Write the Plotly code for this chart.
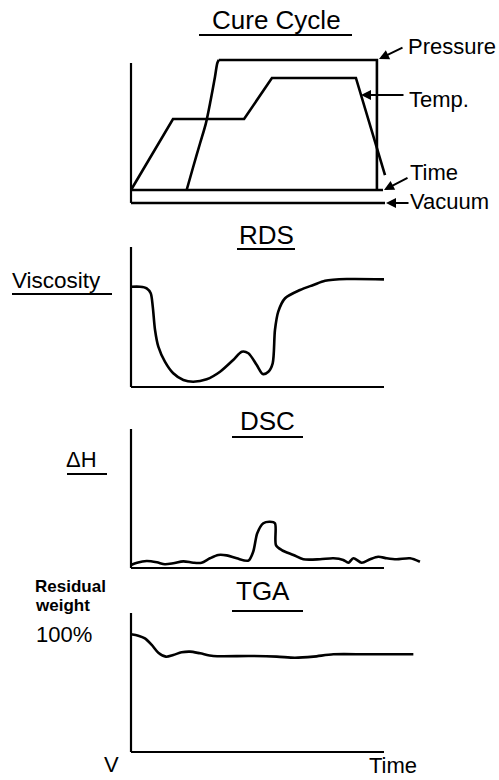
import plotly.graph_objects as go

W, H = 499, 780
FONT = "Liberation Sans, Arial, Helvetica, sans-serif"

# ---------------- data (time in arbitrary units 0..100 along axis) ----------------
# Cure cycle
pressure_t = [22.0, 24.6, 27.3, 29.6, 31.5, 33.2, 34.1, 34.7, 97.2, 97.2]
pressure_v = [0, 18.3, 36.8, 52.5, 70.9, 89.2, 99.8, 102.4, 102.4, 0]
temp_t = [0, 16.6, 44.7, 55.7, 88.9, 100.4]
temp_v = [0, 55.9, 55.9, 88.2, 88.2, 11.8]
time_line_t = [0, 99.6]
time_line_v = [0, 0]
vacuum_t = [0, 100.4]
vacuum_v = [-10.2, -10.2]

# RDS viscosity
rds_t = [0, 3.6, 6.2, 7.8, 8.6, 9.5, 10.8, 13.4, 16.7, 20.7, 24.6, 29.9, 35.2, 40.4,
         43.8, 46.4, 49.7, 52.1, 54.3, 56.0, 56.9, 58.2, 60.9, 66.8, 72.1, 76.7, 85.3, 100]
rds_v = [71.6, 71.6, 70.5, 66.9, 57.4, 40.7, 28.8, 18.1, 9.8, 5.0, 3.8, 5.5, 10.9, 19.3,
         25.2, 24.1, 15.7, 9.3, 10.9, 16.9, 40.7, 53.8, 63.4, 69.3, 72.9, 75.9, 77.1, 76.9]

# DSC heat flow
dsc_t = [0, 2.4, 6.2, 10.2, 13.4, 16.7, 20.7, 24.6, 27.9, 31.2, 34.5, 37.8, 41.8, 46.4,
         48.3, 49.9, 52.3, 54.9, 56.9, 57.3, 59.6, 64.2, 68.1, 74.7, 80.0, 83.9, 85.9,
         87.9, 91.2, 94.5, 97.7, 101.1, 105.0, 110.3, 114.2]
dsc_v = [2.2, 3.8, 5.0, 4.1, 2.7, 3.4, 4.8, 3.8, 3.8, 7.0, 9.4, 9.1, 7.0, 5.3,
         11.7, 25.0, 32.2, 33.3, 32.2, 16.5, 12.9, 9.4, 6.3, 6.3, 7.0, 5.8, 3.8,
         7.0, 3.8, 6.3, 8.1, 7.0, 6.3, 7.0, 4.5]

# TGA residual weight
tga_t = [0, 2.9, 5.5, 8.2, 10.8, 13.8, 16.7, 20.0, 23.3, 27.3, 32.5, 47.0, 57.6, 64.8,
         72.1, 80.0, 93.2, 111.6]
tga_v = [84.7, 83.7, 81.8, 77.0, 71.4, 68.6, 69.8, 71.7, 72.2, 71.0, 69.1, 69.1, 68.6,
         67.8, 68.6, 70.3, 70.3, 70.3]

# ---------------- layout helpers (pixel geometry of the panels) ----------------
X0_PX, X100_PX = 131, 384
XS = (X100_PX - X0_PX) / 100.0
x_range = [(0 - X0_PX) / XS, (W - X0_PX) / XS]

# panel: (base_px, top_px, band_top_px, band_bottom_px)
panels = {
    "": (190, 63, 40, 214),
    "2": (387, 247, 240, 395),
    "3": (568, 429, 420, 578),
    "4": (752, 613, 605, 762),
}

fig = go.Figure()
layout = dict(width=W, height=H, margin=dict(l=0, r=0, t=0, b=0), autosize=False,
              paper_bgcolor="white", plot_bgcolor="rgba(0,0,0,0)", showlegend=False)
for k, (base, top, bt, bb) in panels.items():
    s = (base - top) / 100.0
    layout["xaxis" + k] = dict(domain=[0, 1], range=x_range, visible=False, fixedrange=True)
    layout["yaxis" + k] = dict(domain=[1 - bb / H, 1 - bt / H],
                               range=[(base - bb) / s, (base - bt) / s],
                               visible=False, fixedrange=True)
    if k:
        layout["xaxis" + k]["anchor"] = "y" + k
        layout["yaxis" + k]["anchor"] = "x" + k
fig.update_layout(**layout)

LW = 2.6
def add_line(t, v, k, spline=False):
    fig.add_trace(go.Scatter(x=t, y=v, mode="lines", xaxis="x" + k, yaxis="y" + k,
                             line=dict(color="black", width=LW,
                                       shape="spline" if spline else "linear",
                                       smoothing=0.8),
                             hoverinfo="skip"))

# cure cycle
add_line(time_line_t, time_line_v, "")
add_line(vacuum_t, vacuum_v, "")
add_line(pressure_t[:8], pressure_v[:8], "", spline=True)
add_line(pressure_t[7:], pressure_v[7:], "")
add_line(temp_t, temp_v, "")
# other curves
add_line(rds_t, rds_v, "2", spline=True)
add_line(dsc_t, dsc_v, "3", spline=True)
add_line(tga_t, tga_v, "4", spline=True)

# axis frames
shapes = []
def axline(x0, y0, x1, y1, k):
    shapes.append(dict(type="line", xref="x" + k, yref="y" + k, x0=x0, y0=y0, x1=x1, y1=y1,
                       line=dict(color="black", width=2.2)))
axline(0, -10.2, 0, 100, "")
for k in ["2", "3", "4"]:
    axline(0, 0, 0, 100, k)
    axline(0, 0, 100, 0, k)

def px(xp, yp):
    return xp / W, 1 - yp / H

def uline(x0p, x1p, yp):
    shapes.append(dict(type="line", xref="paper", yref="paper",
                       x0=x0p / W, x1=x1p / W, y0=1 - yp / H, y1=1 - yp / H,
                       line=dict(color="black", width=2.2)))

uline(199, 352, 35)
uline(237, 295, 249)
uline(232, 303, 437)
uline(232, 303, 611)
uline(12, 112, 294)
uline(67, 107, 474)
fig.update_layout(shapes=shapes)

ann = []
def text(s, xp, yp, size, xanchor="left", bold=False, yanchor="middle"):
    x, y = px(xp, yp)
    ann.append(dict(text=("<b>%s</b>" % s) if bold else s, x=x, y=y, xref="paper", yref="paper",
                    xanchor=xanchor, yanchor=yanchor, showarrow=False,
                    font=dict(family=FONT, size=size, color="black")))

text("Cure Cycle", 276, 20, 26, "center")
text("RDS", 266, 235, 26, "center")
text("DSC", 267, 421, 26, "center")
text("TGA", 263, 591, 26, "center")
text("Pressure", 406, 46, 22)
text("Temp.", 407, 99, 22)
text("Time", 408, 172, 22)
text("Vacuum", 408, 202, 22)
text("Viscosity", 10, 280, 22.5)
text("ΔH", 64, 459, 22)
text("Residual", 33, 586, 17, bold=True)
text("weight", 33, 605, 17, bold=True)
text("100%", 34, 634, 22)
text("V", 111, 764, 22, "center")
text("Time", 393, 780, 22, "center", yanchor="bottom")

def arrow(hx, hy, tx, ty):
    x, y = px(hx, hy)
    ann.append(dict(text="", x=x, y=y, xref="paper", yref="paper", showarrow=True,
                    ax=tx - hx, ay=ty - hy, axref="pixel", ayref="pixel",
                    arrowhead=2, arrowsize=1.0, arrowwidth=2, arrowcolor="black",
                    standoff=0, startstandoff=0))

arrow(379, 59, 404, 47)
arrow(361, 95, 405, 95)
arrow(384, 190, 409, 177)
arrow(386, 203, 410, 203)
fig.update_layout(annotations=ann)

fig.write_html("out.html", config={"displayModeBar": False},
               post_script="document.body.style.margin='0px';document.body.style.overflow='hidden';")
